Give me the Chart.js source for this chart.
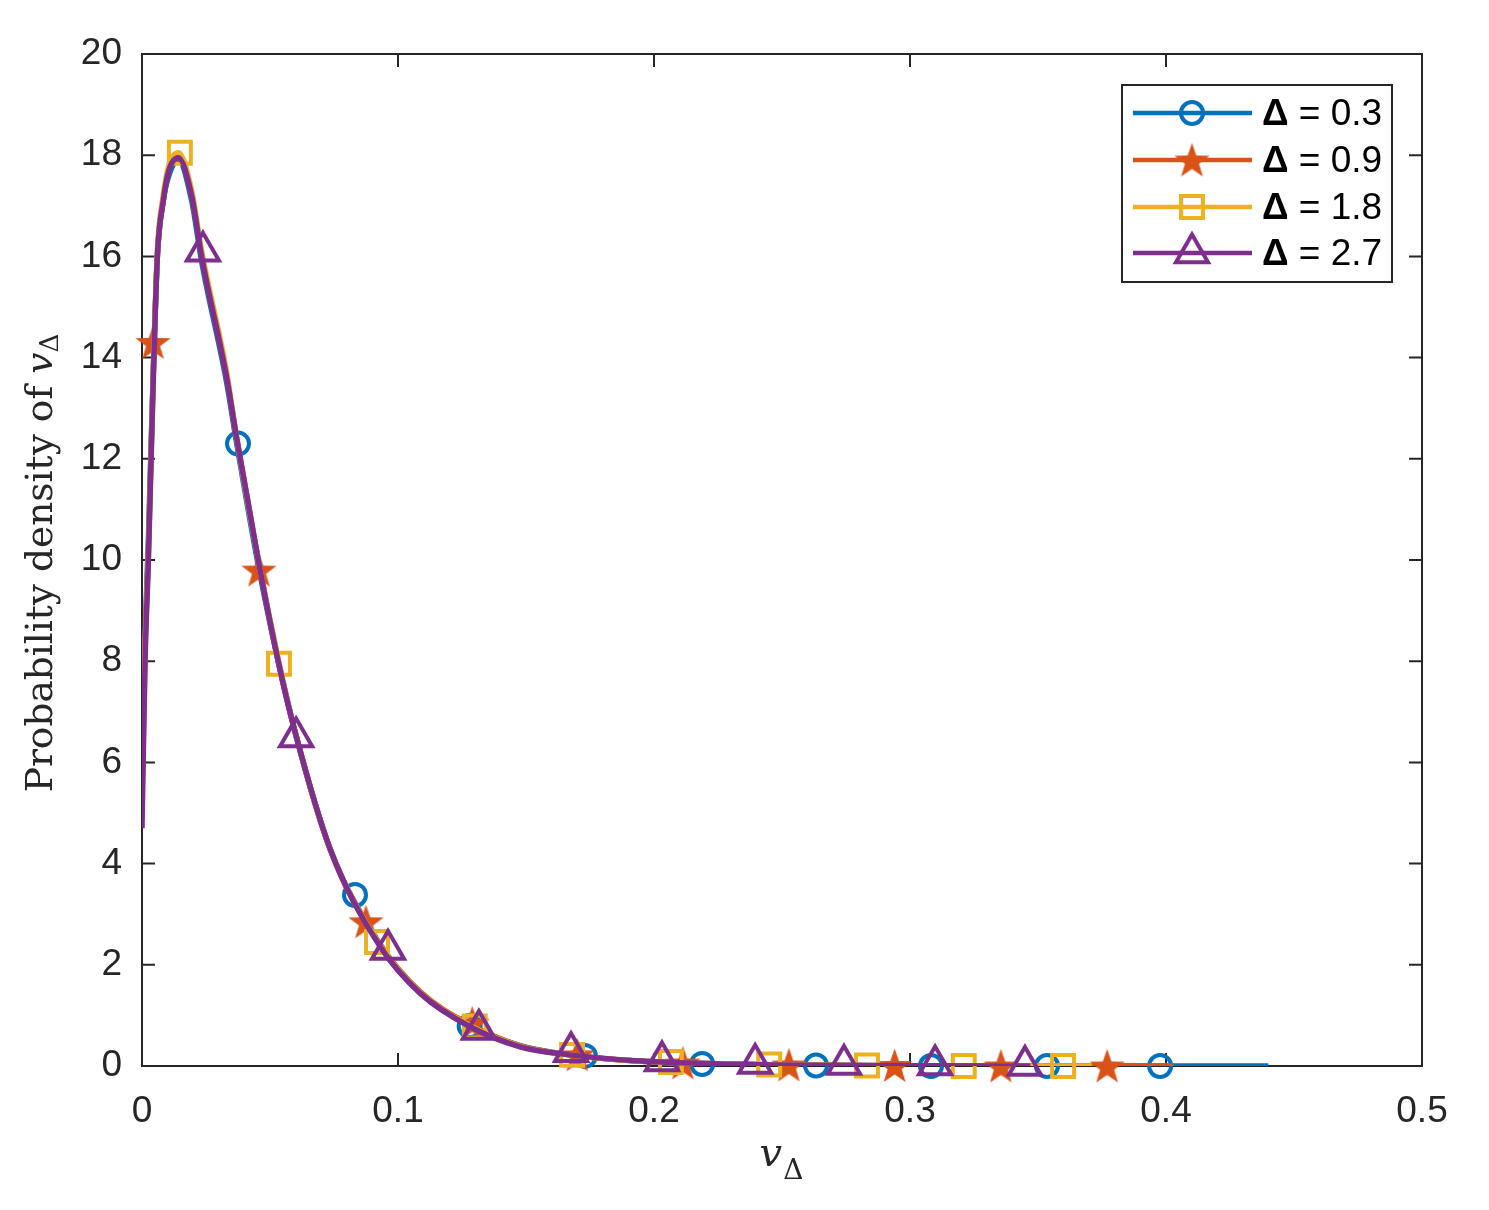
<!DOCTYPE html>
<html>
<head>
<meta charset="utf-8">
<script src="https://cdn.jsdelivr.net/npm/chart.js@4.4.1/dist/chart.umd.min.js"></script>
<style>
  body { margin: 0; background: #fff; }
  canvas { display: block; }
</style>
</head>
<body>
<canvas id="grafikDensitas" width="1489" height="1210"></canvas>
<script>
// data kurva
const label = ['\u0394 = 0.3', '\u0394 = 0.9', '\u0394 = 1.8', '\u0394 = 2.7'];
const xKurva = [0, 0.0012, 0.0025, 0.0042, 0.006, 0.0083, 0.0105, 0.0142, 0.0194, 0.0233, 0.0331, 0.037, 0.0454, 0.0532, 0.0598, 0.0734, 0.093, 0.1086, 0.128, 0.1477, 0.167, 0.193, 0.22, 0.25, 0.28, 0.31];
const yBiru   = [6.0, 8.5, 10.4, 13.4, 16.0, 17.1, 17.6, 17.9, 17.1, 15.9, 13.5, 12.3, 9.9, 8.0, 6.6, 4.3, 2.4, 1.45, 0.8, 0.4, 0.22, 0.1, 0.05, 0.02, 0.01, 0];
const yOranye = [5.5, 8.3, 10.2, 13.3, 16.0, 17.1, 17.7, 17.95, 17.2, 16.0, 13.6, 12.4, 10.0, 8.0, 6.6, 4.3, 2.4, 1.47, 0.82, 0.4, 0.22, 0.1, 0.05, 0.02, 0.01, 0];
const yKuning = [5.2, 8.2, 10.1, 13.3, 16.1, 17.2, 17.8, 18.05, 17.3, 16.1, 13.7, 12.4, 10.0, 8.05, 6.6, 4.3, 2.38, 1.45, 0.8, 0.39, 0.22, 0.1, 0.05, 0.02, 0.01, 0];
const yUngu   = [4.7, 8.0, 10.0, 13.2, 16.0, 17.1, 17.7, 17.95, 17.2, 16.0, 13.6, 12.4, 10.0, 8.0, 6.6, 4.3, 2.36, 1.44, 0.78, 0.38, 0.22, 0.105, 0.05, 0.02, 0.01, 0.005];
const xAkhir = [0.44, 0.403, 0.371, 0.347];

// posisi marker
const xMarkerBiru   = [0.0375, 0.0832, 0.128, 0.173, 0.2188, 0.2633, 0.3082, 0.3535, 0.3977];
const yMarkerBiru   = [12.3, 3.38, 0.79, 0.2, 0.04, 0.01, 0, 0, 0];
const xMarkerOranye = [0.0043, 0.0457, 0.0875, 0.129, 0.17, 0.2113, 0.2527, 0.294, 0.3355, 0.377];
const yMarkerOranye = [14.3, 9.8, 2.85, 0.85, 0.22, 0.06, 0.02, 0.01, 0, 0];
const xMarkerKuning = [0.0148, 0.0535, 0.0918, 0.13, 0.168, 0.2066, 0.245, 0.2832, 0.321, 0.3598];
const yMarkerKuning = [18.05, 7.95, 2.45, 0.78, 0.22, 0.08, 0.03, 0.01, 0, 0];
const xMarkerUngu   = [0.0238, 0.0602, 0.0961, 0.1316, 0.1676, 0.2031, 0.2395, 0.2742, 0.3098, 0.3449];
const yMarkerUngu   = [16.1, 6.5, 2.3, 0.72, 0.28, 0.1, 0.05, 0.03, 0.02, 0.01];

const xTicks = [0, 0.1, 0.2, 0.3, 0.4, 0.5];
const yTicks = [0, 2, 4, 6, 8, 10, 12, 14, 16, 18, 20];

const warna = ['#0072BD', '#D95319', '#EDB120', '#7E2F8E'];
const warnaSumbu = '#262626';
const fontSans = '"Liberation Sans", Arial, sans-serif';
const fontSerif = '"DejaVu Serif", "Liberation Serif", serif';

// bintang isi (pentagram) untuk marker oranye
function buatBintang(r) {
  const c = document.createElement('canvas');
  const s = Math.ceil(r * 2 + 2);
  c.width = s; c.height = s;
  const g = c.getContext('2d');
  g.beginPath();
  for (let i = 0; i < 10; i++) {
    const rad = i % 2 === 0 ? r : r * 0.4;
    const a = -Math.PI / 2 + i * Math.PI / 5;
    const px = s / 2 + rad * Math.cos(a);
    const py = s / 2 + rad * Math.sin(a) + 1.5;
    if (i === 0) g.moveTo(px, py); else g.lineTo(px, py);
  }
  g.closePath();
  g.fillStyle = warna[1];
  g.fill();
  return c;
}
const bintang = buatBintang(18.5);

const yKurva = [yBiru, yOranye, yKuning, yUngu];
const xMarker = [xMarkerBiru, xMarkerOranye, xMarkerKuning, xMarkerUngu];
const yMarker = [yMarkerBiru, yMarkerOranye, yMarkerKuning, yMarkerUngu];
const gayaMarker = [
  { pointStyle: 'circle', pointRadius: 11, pointBorderWidth: 4, pointBackgroundColor: 'rgba(0,0,0,0)' },
  { pointStyle: bintang, pointRadius: 18, pointBorderWidth: 0, pointBackgroundColor: warna[1] },
  { pointStyle: 'rect', pointRadius: 15.5, pointBorderWidth: 4, pointBackgroundColor: 'rgba(0,0,0,0)' },
  { pointStyle: 'triangle', pointRadius: 18.5, pointBorderWidth: 4, pointBackgroundColor: 'rgba(0,0,0,0)' }
];

const datasets = [];
for (let i = 0; i < 4; i++) {
  const titik = xKurva.map((x, j) => ({ x: x, y: yKurva[i][j] }));
  titik.push({ x: xAkhir[i], y: 0 });
  datasets.push({
    label: label[i],
    data: titik,
    showLine: true,
    borderColor: warna[i],
    borderWidth: 5.5,
    pointRadius: 0,
    cubicInterpolationMode: 'monotone',
    order: 4 - i
  });
  datasets.push(Object.assign({
    label: label[i] + ' marker',
    data: xMarker[i].map((x, j) => ({ x: x, y: yMarker[i][j] })),
    showLine: false,
    borderColor: warna[i],
    pointBorderColor: warna[i],
    clip: false,
    order: 4 - i
  }, gayaMarker[i]));
}

// kotak sumbu + tick ke dalam, judul sumbu, legenda
const bingkai = {
  id: 'bingkai',
  beforeDatasetsDraw(chart) {
    const { ctx, chartArea: a, scales } = chart;
    ctx.save();
    ctx.strokeStyle = warnaSumbu;
    ctx.lineWidth = 2;
    ctx.strokeRect(a.left, a.top, a.right - a.left, a.bottom - a.top);
    const tl = 13;
    ctx.beginPath();
    xTicks.forEach(v => {
      const px = scales.x.getPixelForValue(v);
      ctx.moveTo(px, a.bottom); ctx.lineTo(px, a.bottom - tl);
      ctx.moveTo(px, a.top); ctx.lineTo(px, a.top + tl);
    });
    yTicks.forEach(v => {
      const py = scales.y.getPixelForValue(v);
      ctx.moveTo(a.left, py); ctx.lineTo(a.left + tl, py);
      ctx.moveTo(a.right, py); ctx.lineTo(a.right - tl, py);
    });
    ctx.stroke();
    ctx.restore();
  },
  afterDraw(chart) {
    const { ctx } = chart;
    // judul sumbu y
    ctx.save();
    ctx.fillStyle = warnaSumbu;
    const t1 = 'Probability density of ';
    ctx.font = '33px ' + fontSerif;
    const skala = 440 / ctx.measureText(t1 + 'v').width;
    const uk = 33 * skala;
    const f1 = uk + 'px ' + fontSerif, f2 = 'italic ' + uk + 'px ' + fontSerif, f3 = (uk * 0.7) + 'px ' + fontSerif;
    ctx.font = f1; const w1 = ctx.measureText(t1).width;
    ctx.font = f2; const w2 = ctx.measureText('v').width;
    ctx.font = f3; const w3 = ctx.measureText('\u0394').width;
    ctx.translate(42, 563);
    ctx.rotate(-Math.PI / 2);
    let x0 = -(w1 + w2 + w3) / 2;
    ctx.textBaseline = 'middle';
    ctx.font = f1; ctx.fillText(t1, x0, 0); x0 += w1;
    ctx.font = f2; ctx.fillText('v', x0, 0); x0 += w2;
    ctx.font = f3; ctx.fillText('\u0394', x0, 9);
    ctx.restore();

    // judul sumbu x
    ctx.save();
    ctx.fillStyle = warnaSumbu;
    ctx.textBaseline = 'alphabetic';
    ctx.font = 'italic 40px ' + fontSerif;
    const wv = ctx.measureText('v').width;
    ctx.font = '28px ' + fontSerif;
    const wd = ctx.measureText('\u0394').width;
    const xs = 781 - (wv + wd) / 2;
    ctx.font = 'italic 40px ' + fontSerif; ctx.fillText('v', xs, 1166);
    ctx.font = '28px ' + fontSerif; ctx.fillText('\u0394', xs + wv + 1, 1179);
    ctx.restore();

    // legenda
    ctx.save();
    const lx = 1122, ly = 85, lw = 270, lh = 197;
    ctx.fillStyle = '#fff';
    ctx.fillRect(lx, ly, lw, lh);
    ctx.strokeStyle = warnaSumbu;
    ctx.lineWidth = 2;
    ctx.strokeRect(lx, ly, lw, lh);
    const barisY = [113, 160, 207, 253];
    for (let i = 0; i < 4; i++) {
      const yy = barisY[i];
      ctx.strokeStyle = warna[i];
      ctx.lineWidth = 4.5;
      ctx.beginPath(); ctx.moveTo(1133, yy); ctx.lineTo(1252, yy); ctx.stroke();
      const g = gayaMarker[i];
      ctx.lineWidth = g.pointBorderWidth || 1;
      ctx.fillStyle = g.pointBackgroundColor;
      Chart.helpers.drawPoint(ctx, { pointStyle: g.pointStyle, radius: g.pointRadius, borderWidth: g.pointBorderWidth, rotation: 0 }, 1192, yy);
      ctx.fillStyle = '#000';
      ctx.textBaseline = 'middle';
      ctx.font = 'bold 37px ' + fontSans;
      ctx.fillText('\u0394', 1262, yy + 2);
      const wD = ctx.measureText('\u0394').width;
      ctx.font = '37px ' + fontSans;
      ctx.fillText(label[i].slice(1), 1262 + wD, yy + 2);
    }
    ctx.restore();
  }
};

new Chart(document.getElementById('grafikDensitas'), {
  type: 'scatter',
  data: { datasets: datasets },
  options: {
    responsive: false,
    animation: false,
    layout: { padding: { left: 0, top: 54, right: 67, bottom: 0 } },
    scales: {
      x: {
        type: 'linear',
        min: 0,
        max: 0.5,
        afterFit: s => { s.height = 144; },
        afterBuildTicks: s => { s.ticks = xTicks.map(v => ({ value: v })); },
        grid: { display: false, drawTicks: false },
        border: { display: false },
        ticks: {
          padding: 24,
          color: warnaSumbu,
          font: { family: fontSans, size: 37 },
          maxRotation: 0
        }
      },
      y: {
        type: 'linear',
        min: 0,
        max: 20,
        afterFit: s => { s.width = 142; },
        afterBuildTicks: s => { s.ticks = yTicks.map(v => ({ value: v })); },
        grid: { display: false, drawTicks: false },
        border: { display: false },
        ticks: {
          padding: 20,
          color: warnaSumbu,
          font: { family: fontSans, size: 37 }
        }
      }
    },
    plugins: {
      legend: { display: false },
      tooltip: { enabled: false }
    }
  },
  plugins: [bingkai]
});
</script>
</body>
</html>
